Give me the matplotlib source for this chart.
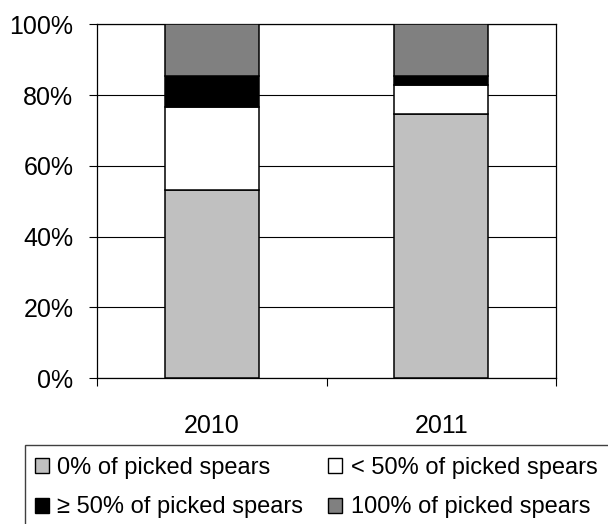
import matplotlib
matplotlib.use("Agg")
import matplotlib.pyplot as plt
from matplotlib.patches import Patch, Rectangle
import numpy as np

plt.rcParams['font.family'] = ['Liberation Sans', 'DejaVu Sans']

years = ["2010", "2011"]
series_names = ["0% of picked spears", "< 50% of picked spears",
                "\u2265 50% of picked spears", "100% of picked spears"]
share_0 = [53.1, 74.6]
share_lt50 = [23.6, 8.2]
share_ge50 = [8.7, 2.6]
share_100 = [14.6, 14.6]
colors = ["#C0C0C0", "#FFFFFF", "#000000", "#808080"]
y_ticks = [0, 20, 40, 60, 80, 100]
y_tick_labels = ["0%", "20%", "40%", "60%", "80%", "100%"]

FS = 18
LEG_FS = 17
W, H = 608, 524
fig = plt.figure(figsize=(W / 100, H / 100), dpi=100)
ax = fig.add_axes([97 / W, (H - 378) / H, (556 - 97) / W, (378 - 24.3) / H])

x = np.arange(len(years))
bottom = np.zeros(len(years))
handles = []
for vals, col, name in zip([share_0, share_lt50, share_ge50, share_100], colors, series_names):
    ax.bar(x, vals, width=0.41, bottom=bottom, color=col, edgecolor="black",
           linewidth=1.1, zorder=3)
    bottom += np.array(vals)
    handles.append(Patch(facecolor=col, edgecolor="black", linewidth=1.0, label=name))

ax.set_xlim(-0.5, 1.5)
ax.set_ylim(0, 100)
ax.set_yticks(y_ticks)
ax.set_yticklabels(y_tick_labels, fontsize=FS)
ax.yaxis.grid(True, color="black", linewidth=0.8, zorder=0)

ax.set_xticks(x)
ax.set_xticklabels(years, fontsize=FS)
ax.set_xticks([-0.5, 0.5, 1.5], minor=True)
ax.tick_params(axis="x", which="major", length=0, pad=26)
ax.tick_params(axis="x", which="minor", length=6, width=0.8, direction="out")
ax.tick_params(axis="y", length=6, width=0.8, direction="out", pad=11)

for side in ["left", "bottom", "top", "right"]:
    ax.spines[side].set_linewidth(0.9)
    ax.spines[side].set_color("black")

# Legend frame running off the bottom/right edges of the figure
fig.patches.append(Rectangle((25 / W, -0.2), 1.2, 0.2 + (H - 445) / H,
                             transform=fig.transFigure, facecolor="none",
                             edgecolor="#404040", linewidth=1.0))

order = [0, 2, 1, 3]
fig.legend([handles[i] for i in order], [series_names[i] for i in order],
           ncol=2, loc="upper left", bbox_to_anchor=(35 / W, 1 - 457 / H),
           frameon=False, fontsize=LEG_FS, borderpad=0, borderaxespad=0,
           handlelength=0.6, handleheight=0.6, handletextpad=0.35,
           labelspacing=0.74, columnspacing=1.05)

fig.savefig("out.png", dpi=100)
